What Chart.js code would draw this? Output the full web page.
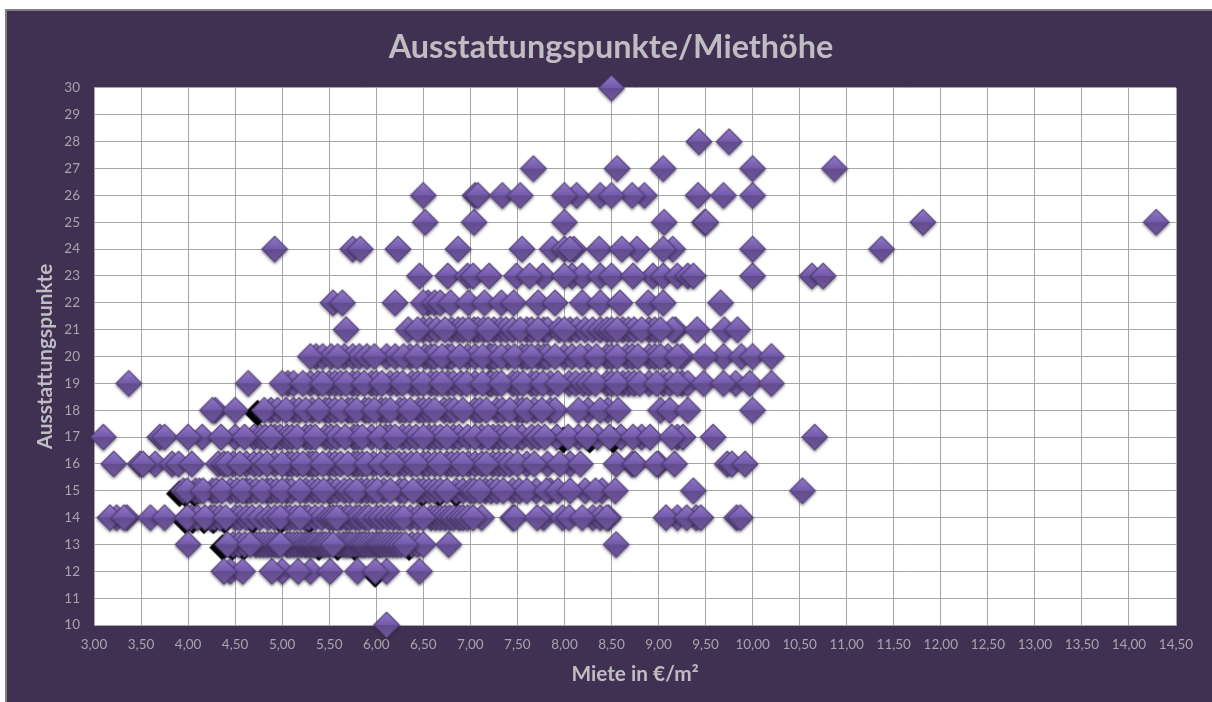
<!DOCTYPE html>
<html><head><meta charset="utf-8">
<script src="https://cdn.jsdelivr.net/npm/chart.js@4"></script>
<style>
html,body{margin:0;padding:0;background:#fff;overflow:hidden;width:1212px;height:702px}
#frame{position:absolute;left:5px;top:9px;width:1207px;height:693px;background:#403152;border-left:2px solid #808080;border-top:2px solid #808080;overflow:hidden}
canvas{position:absolute;left:0;top:0}
</style></head><body>
<div id="frame"><canvas id="c" width="1208" height="690" style="width:1208px;height:690px"></canvas></div>
<script>
const chartTitle = "Ausstattungspunkte/Miethöhe";
const xAxisTitle = "Miete in €/m²";
const yAxisTitle = "Ausstattungspunkte";

// rent values (x) per score row (y); fully visible diamonds come last in each list
const row30 = [8.50];
const row28 = [9.43, 9.75];
const row27 = [7.67, 8.56, 9.05, 10.00, 10.87];
const row26 = [6.50, 7.05, 7.08, 7.34, 7.53, 8.13, 8.00, 8.38, 8.85, 8.72, 8.50, 9.42, 9.69, 10.00];
const row25 = [6.52, 7.04, 8.00, 9.06, 9.49, 9.50, 11.81, 14.29];
const row24 = [4.92, 5.75, 5.83, 6.23, 6.87, 7.55, 7.87, 8.00, 8.10, 8.06, 8.37, 8.77, 8.61, 9.15, 9.05, 10.00, 11.37];
const row23 = [6.46, 6.76, 6.97, 7.03, 7.20, 7.49, 7.77, 7.63, 8.08, 8.19, 8.00, 8.38, 8.94, 8.50, 8.73, 9.05, 9.20, 9.31, 9.37, 10.00, 10.63, 10.75];
const row22 = [5.54, 5.64, 6.20, 6.55, 6.50, 6.62, 6.68, 6.79, 6.98, 7.15, 7.33, 7.46, 7.72, 7.90, 8.19, 8.38, 8.59, 8.89, 9.05, 9.66];
const row21 = [5.68, 6.34, 6.50, 6.57, 6.64, 6.80, 6.87, 6.92, 7.04, 7.08, 7.14, 7.25, 7.32, 7.38, 7.45, 7.60, 7.65, 7.78, 7.82, 7.94, 8.06, 8.13, 8.22, 8.30, 8.38, 8.45, 8.50, 8.62, 8.68, 8.74, 8.90, 8.96, 9.18, 9.15, 9.70, 9.84, 6.44, 6.73, 6.98, 7.19, 7.53, 7.72, 8.00, 8.56, 8.82, 9.02, 9.41];
const row20 = [5.36, 5.43, 5.52, 5.66, 5.75, 5.82, 5.90, 6.11, 6.20, 6.36, 6.52, 6.58, 6.62, 6.76, 6.80, 6.97, 7.05, 7.20, 7.22, 7.26, 7.40, 7.55, 7.60, 7.72, 7.78, 7.82, 8.00, 8.08, 8.25, 8.45, 8.50, 8.66, 8.72, 8.90, 8.96, 9.10, 9.25, 9.69, 9.88, 5.30, 5.59, 5.98, 6.29, 6.43, 6.70, 6.89, 7.13, 7.33, 7.47, 7.65, 7.90, 8.17, 8.34, 8.56, 8.78, 9.02, 9.20, 9.49, 10.00, 10.20];
const row19 = [5.06, 5.12, 5.30, 5.38, 5.50, 5.56, 5.62, 5.75, 5.80, 5.95, 6.00, 6.15, 6.22, 6.38, 6.44, 6.58, 6.64, 6.76, 6.82, 6.90, 7.05, 7.20, 7.22, 7.28, 7.45, 7.50, 7.65, 7.70, 7.85, 8.05, 8.12, 8.20, 8.26, 8.45, 8.50, 8.62, 8.68, 8.74, 8.90, 9.05, 9.12, 9.25, 9.31, 9.82, 3.37, 4.64, 5.00, 5.22, 5.43, 5.68, 5.87, 6.06, 6.28, 6.50, 6.70, 6.96, 7.13, 7.33, 7.56, 7.77, 7.93, 8.33, 8.56, 8.80, 8.98, 9.20, 9.48, 9.69, 9.97, 10.20];
const row18 = [4.29, 4.88, 4.95, 5.12, 5.18, 5.32, 5.46, 5.50, 5.56, 5.70, 5.74, 5.88, 5.92, 6.05, 6.10, 6.25, 6.30, 6.45, 6.50, 6.56, 6.72, 6.78, 6.83, 7.05, 7.10, 7.28, 7.34, 7.50, 7.55, 7.68, 7.85, 7.90, 8.25, 8.46, 4.26, 4.50, 4.81, 5.04, 5.25, 5.39, 5.63, 5.79, 5.98, 6.15, 6.36, 6.62, 6.92, 7.17, 7.42, 7.60, 7.76, 8.15, 8.38, 8.57, 9.02, 9.12, 9.31, 10.00];
const row17 = [3.70, 4.15, 4.50, 4.70, 4.77, 4.82, 4.92, 4.98, 5.05, 5.10, 5.25, 5.30, 5.46, 5.52, 5.58, 5.76, 5.80, 5.95, 6.10, 6.15, 6.28, 6.35, 6.42, 6.56, 6.62, 6.68, 6.82, 6.88, 6.97, 7.12, 7.24, 7.30, 7.36, 7.50, 7.55, 7.65, 7.72, 7.92, 8.15, 8.35, 8.60, 8.82, 9.20, 9.26, 3.10, 3.75, 4.00, 4.35, 4.60, 4.88, 5.16, 5.35, 5.67, 5.85, 6.04, 6.20, 6.50, 6.75, 7.05, 7.19, 7.44, 7.79, 8.04, 8.24, 8.48, 8.73, 8.91, 9.14, 9.58, 10.66];
const row16 = [3.49, 3.65, 3.83, 4.32, 4.38, 4.48, 4.62, 4.70, 4.76, 4.92, 5.06, 5.10, 5.16, 5.28, 5.32, 5.36, 5.50, 5.56, 5.62, 5.76, 5.80, 5.85, 5.97, 6.12, 6.24, 6.30, 6.37, 6.50, 6.55, 6.62, 6.75, 6.80, 6.86, 6.98, 7.05, 7.12, 7.24, 7.30, 7.36, 7.42, 7.60, 7.82, 8.06, 8.72, 9.00, 9.73, 3.21, 3.52, 3.90, 4.04, 4.42, 4.55, 4.84, 5.00, 5.22, 5.43, 5.70, 5.90, 6.05, 6.18, 6.43, 6.68, 6.92, 7.17, 7.50, 7.68, 7.95, 8.17, 8.55, 8.75, 8.98, 9.17, 9.78, 9.92];
const row15 = [3.95, 4.08, 4.12, 4.26, 4.30, 4.45, 4.52, 4.62, 4.66, 4.72, 4.84, 4.88, 4.94, 5.05, 5.10, 5.25, 5.32, 5.38, 5.50, 5.52, 5.58, 5.66, 5.72, 5.84, 5.90, 5.96, 6.08, 6.25, 6.30, 6.45, 6.50, 6.56, 6.62, 6.68, 6.85, 6.92, 7.00, 7.04, 7.16, 7.22, 7.28, 7.45, 7.52, 7.70, 7.85, 8.22, 8.40, 3.99, 4.16, 4.36, 4.58, 4.79, 5.00, 5.19, 5.44, 5.79, 6.01, 6.15, 6.39, 6.75, 7.10, 7.35, 7.60, 7.81, 7.93, 8.06, 8.33, 8.54, 9.37, 10.53];
const row14 = [3.24, 3.35, 4.03, 4.10, 4.24, 4.28, 4.34, 4.50, 4.55, 4.62, 4.68, 4.76, 4.85, 4.92, 5.04, 5.08, 5.14, 5.24, 5.28, 5.35, 5.42, 5.50, 5.54, 5.62, 5.68, 5.72, 5.78, 5.82, 5.88, 5.92, 6.00, 6.05, 6.12, 6.18, 6.24, 6.36, 6.44, 6.58, 6.63, 6.68, 6.73, 6.78, 6.82, 6.88, 6.92, 6.97, 7.12, 7.45, 7.78, 7.98, 8.30, 8.38, 8.47, 9.20, 9.40, 9.83, 3.17, 3.32, 3.60, 3.75, 3.99, 4.18, 4.40, 4.98, 5.19, 5.58, 6.29, 6.50, 7.03, 7.47, 7.71, 8.05, 8.19, 8.45, 9.08, 9.30, 9.45, 9.87];
const row13 = [4.48, 4.54, 4.60, 4.72, 4.76, 4.80, 4.84, 4.88, 4.92, 4.96, 5.05, 5.08, 5.12, 5.16, 5.20, 5.24, 5.27, 5.30, 5.33, 5.36, 5.40, 5.43, 5.46, 5.50, 5.60, 5.65, 5.68, 5.71, 5.74, 5.78, 5.82, 5.85, 5.88, 5.92, 5.96, 6.00, 6.03, 6.06, 6.10, 6.14, 6.18, 6.22, 6.26, 6.38, 6.44, 6.50, 4.00, 4.42, 4.66, 4.98, 5.54, 6.31, 6.77, 8.55];
const row12 = [4.45, 4.58, 5.00, 5.30, 5.51, 6.11, 4.38, 4.89, 5.17, 5.80, 5.99, 6.46];
const row10 = [6.11];

// points whose rendered shadow came out solid black in the picture
const blackRow18 = [4.77];
const blackRow17 = [8.02, 8.30, 8.55];
const blackRow15 = [3.94, 4.00, 4.10, 6.52, 6.70, 6.88];
const blackRow14 = [4.00, 4.08, 4.20, 4.30, 4.42, 4.72, 5.02, 5.32];
const blackRow13 = [4.40, 4.50, 4.62, 5.42, 5.62, 5.80, 6.38];
const blackRow12 = [6.02];

const scoreRows = [[10,row10],[12,row12],[13,row13],[14,row14],[15,row15],[16,row16],[17,row17],[18,row18],[19,row19],[20,row20],[21,row21],[22,row22],[23,row23],[24,row24],[25,row25],[26,row26],[27,row27],[28,row28],[30,row30]];
const blackRows = [[12,blackRow12],[13,blackRow13],[14,blackRow14],[15,blackRow15],[17,blackRow17],[18,blackRow18]];
const toPoints = rows => rows.flatMap(([y, xs]) => xs.map(x => ({x, y})));

const R = 13.5, S = 40, C = 20;
function diamondPath(g, cx, cy, r){ g.beginPath(); g.moveTo(cx,cy-r); g.lineTo(cx+r,cy); g.lineTo(cx,cy+r); g.lineTo(cx-r,cy); g.closePath(); }
function makeSprite(){
  const k = document.createElement('canvas'); k.width = S; k.height = S;
  const g = k.getContext('2d');
  g.save(); g.shadowColor='rgba(40,30,50,0.6)'; g.shadowBlur=3; g.shadowOffsetX=0; g.shadowOffsetY=1.5;
  diamondPath(g,C,C,R); g.fillStyle='#523f78'; g.fill(); g.restore();
  const inner = R-1.6;
  let t = g.createLinearGradient(0,C-inner,0,C);
  t.addColorStop(0,'#9078c6'); t.addColorStop(1,'#7459aa');
  g.beginPath(); g.moveTo(C,C-inner); g.lineTo(C+inner,C); g.lineTo(C-inner,C); g.closePath(); g.fillStyle=t; g.fill();
  let b = g.createLinearGradient(0,C,0,C+inner);
  b.addColorStop(0,'#624c8e'); b.addColorStop(1,'#6f569b');
  g.beginPath(); g.moveTo(C-inner,C); g.lineTo(C+inner,C); g.lineTo(C,C+inner); g.closePath(); g.fillStyle=b; g.fill();
  return k;
}
function makeBlackSprite(){
  const k = document.createElement('canvas'); k.width = S; k.height = S;
  const g = k.getContext('2d');
  diamondPath(g,C-3,C+3,R); g.fillStyle='#000'; g.fill();
  return k;
}

const tickFont = {family:'Lato', size:13.5};
const whitePlot = {id:'whitePlot', beforeDraw(ch){ const a=ch.chartArea, g=ch.ctx; g.save(); g.fillStyle='#fff'; g.fillRect(a.left,a.top,a.width,a.height); g.restore(); }};

new Chart(document.getElementById('c'), {
  type:'scatter',
  data:{datasets:[
    {label:'Ausstattungspunkte', data:toPoints(scoreRows), pointStyle:makeSprite(), pointRadius:R, pointHoverRadius:R, clip:false, order:0},
    {label:'Schatten', data:toPoints(blackRows), pointStyle:makeBlackSprite(), pointRadius:R, pointHoverRadius:R, clip:false, order:1}
  ]},
  plugins:[whitePlot],
  options:{
    responsive:false, animation:false, devicePixelRatio:1,
    layout:{padding:{left:39,right:39,top:0,bottom:0}},
    plugins:{
      legend:{display:false}, tooltip:{enabled:false},
      title:{display:true,text:chartTitle,color:'#bfbdc3',font:{family:'Lato',size:32.4,weight:'bold',lineHeight:1.2},padding:{top:17.2,bottom:20.9}}
    },
    scales:{
      x:{type:'linear',min:3,max:14.5,
        afterFit(s){s.height=76;},
        border:{color:'#a6a6a6'},
        grid:{color:'#a6a6a6',drawTicks:false},
        ticks:{stepSize:0.5,autoSkip:false,maxRotation:0,padding:12,color:'#a8a3ae',font:tickFont,callback:v=>v.toFixed(2).replace('.',',')},
        title:{display:true,text:xAxisTitle,color:'#bfbdc3',font:{family:'Lato',size:20.8,weight:'bold'},padding:{top:8,bottom:14.5}}
      },
      y:{type:'linear',min:10,max:30,
        afterFit(s){s.width=48;},
        border:{color:'#a6a6a6'},
        grid:{color:'#a6a6a6',drawTicks:false},
        ticks:{stepSize:1,autoSkip:false,padding:14,color:'#a8a3ae',font:tickFont},
        title:{display:true,text:yAxisTitle,color:'#bfbdc3',font:{family:'Lato',size:20.8,weight:'bold'},padding:{top:-13.5,bottom:0}}
      }
    }
  }
});
</script>
</body></html>
